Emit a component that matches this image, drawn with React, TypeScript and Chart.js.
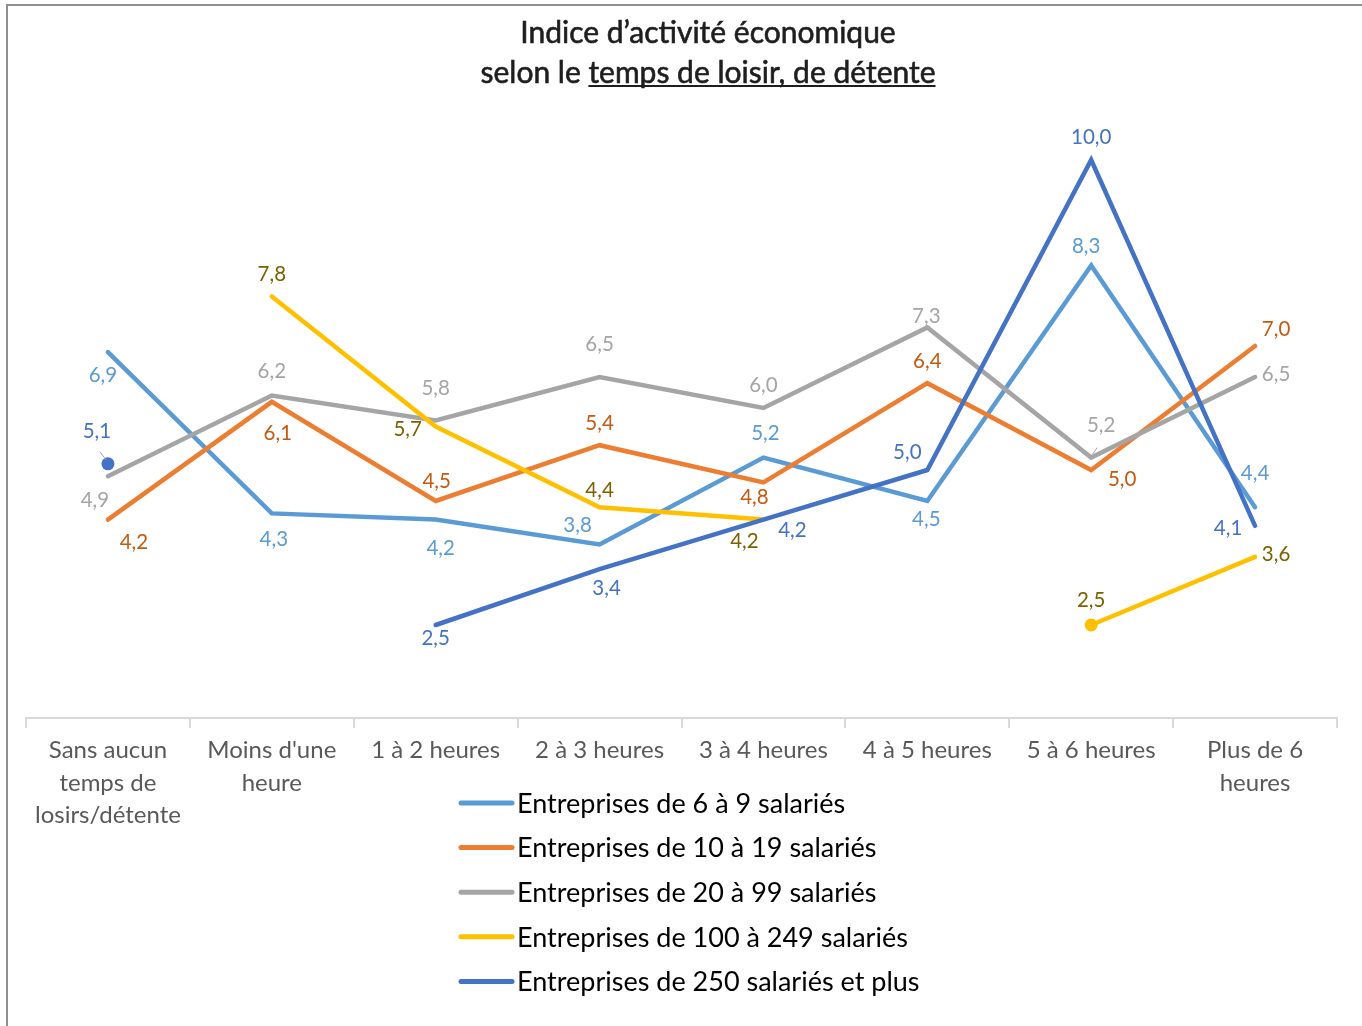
import React, { useEffect, useRef } from "react";
import { Chart, registerables } from "chart.js";

Chart.register(...registerables);

const categories: (string | string[])[] = [
  ["Sans aucun", "temps de", "losirs/détente"],
  ["Moins d'une", "heure"],
  "1 à 2 heures",
  "2 à 3 heures",
  "3 à 4 heures",
  "4 à 5 heures",
  "5 à 6 heures",
  ["Plus de 6", "heures"],
];

const seriesNames = [
  "Entreprises de 6 à 9 salariés",
  "Entreprises de 10 à 19 salariés",
  "Entreprises de 20 à 99 salariés",
  "Entreprises de 100 à 249 salariés",
  "Entreprises de 250 salariés et plus",
];

const s6to9 = [6.9, 4.3, 4.2, 3.8, 5.2, 4.5, 8.3, 4.4];
const s10to19 = [4.2, 6.1, 4.5, 5.4, 4.8, 6.4, 5.0, 7.0];
const s20to99 = [4.9, 6.2, 5.8, 6.5, 6.0, 7.3, 5.2, 6.5];
const s100to249 = [null, 7.8, 5.7, 4.4, 4.2, null, 2.5, 3.6];
const s250plus = [5.1, null, 2.5, 3.4, 4.2, 5.0, 10.0, 4.1];

const seriesValues = [s6to9, s10to19, s20to99, s100to249, s250plus];

const lineColors = ["#5B9BD5", "#ED7D31", "#A5A5A5", "#FFC000", "#4472C4"];
const labelColors = ["#5B9BD5", "#C55A11", "#A5A5A5", "#7F6000", "#4472C4"];

// label offsets (dx, dy) from each point, per series
const labelOffsets: [number, number][][] = [
  [[-5, 23], [2, 26], [5, 29], [-22, -19], [2, -24], [-1, 18], [-5, -19], [0, -34]],
  [[26, 23], [6, 32], [1, -20], [0, -22], [-9, 15], [0, -22], [31, 9], [21, -17]],
  [[-13, 24], [0, -24], [0, -32], [0, -33], [0, -23], [-1, -11], [10, -32], [21, -3]],
  [[0, 0], [0, -22], [-28, 3], [0, -17], [-19, 22], [0, 0], [0, -25], [21, -2]],
  [[-11, -32], [0, 0], [0, 13], [7, 19], [29, 11], [-20, -18], [0, -23], [-27, 3]],
];

// points drawn with a marker
const markerPoints: number[][] = [[], [], [], [6], [0]];

const FONT = "Lato, 'Open Sans', sans-serif";

const fmt = (v: number) => v.toFixed(1).replace(".", ",");

const framePlugin = {
  id: "frame",
  beforeDraw(chart: any) {
    const ctx = chart.ctx;
    ctx.save();
    ctx.fillStyle = "#ffffff";
    ctx.fillRect(0, 0, chart.width, chart.height);
    ctx.strokeStyle = "#8f8f8f";
    ctx.lineWidth = 2;
    ctx.strokeRect(7, 5, 3000, 3000);
    ctx.restore();
  },
};

const titlePlugin = {
  id: "customTitle",
  afterDraw(chart: any) {
    const ctx = chart.ctx;
    ctx.save();
    ctx.fillStyle = "#1e1e1e";
    ctx.strokeStyle = "#1e1e1e";
    ctx.lineWidth = 0.6;
    ctx.font = `30px ${FONT}`;
    ctx.textAlign = "center";
    ctx.textBaseline = "middle";
    const cx = 708;
    const t1 = "Indice d’activité économique";
    ctx.fillText(t1, cx, 33);
    ctx.strokeText(t1, cx, 33);
    const a = "selon le ";
    const b = "temps de loisir, de détente";
    const wa = ctx.measureText(a).width;
    const wb = ctx.measureText(b).width;
    const x0 = cx - (wa + wb) / 2;
    ctx.textAlign = "left";
    ctx.fillText(a, x0, 73);
    ctx.strokeText(a, x0, 73);
    ctx.fillText(b, x0 + wa, 73);
    ctx.strokeText(b, x0 + wa, 73);
    ctx.lineWidth = 1.8;
    ctx.beginPath();
    ctx.moveTo(x0 + wa, 86);
    ctx.lineTo(x0 + wa + wb, 86);
    ctx.stroke();
    ctx.restore();
  },
};

const labelsPlugin = {
  id: "pointLabels",
  afterDatasetsDraw(chart: any) {
    const ctx = chart.ctx;
    ctx.save();
    ctx.font = `20.5px ${FONT}`;
    ctx.textAlign = "center";
    ctx.textBaseline = "middle";
    seriesValues.forEach((vals, i) => {
      const meta = chart.getDatasetMeta(i);
      vals.forEach((v, j) => {
        if (v === null || v === undefined) return;
        const pt = meta.data[j];
        const [dx, dy] = labelOffsets[i][j];
        ctx.fillStyle = labelColors[i];
        ctx.fillText(fmt(v as number), pt.x + dx, pt.y + dy);
      });
    });
    // leader lines
    ctx.strokeStyle = "#A5A5A5";
    ctx.lineWidth = 1;
    const lead = (i: number, j: number, dx1: number, dy1: number, dx2: number, dy2: number) => {
      const pt = chart.getDatasetMeta(i).data[j];
      ctx.beginPath();
      ctx.moveTo(pt.x + dx1, pt.y + dy1);
      ctx.lineTo(pt.x + dx2, pt.y + dy2);
      ctx.stroke();
    };
    lead(4, 0, -8, -12, -2, -4);
    lead(2, 6, 6, -10, 1, -3);
    ctx.restore();
  },
};

const legendPlugin = {
  id: "customLegend",
  afterDraw(chart: any) {
    const ctx = chart.ctx;
    ctx.save();
    ctx.font = `27px ${FONT}`;
    ctx.textAlign = "left";
    ctx.textBaseline = "middle";
    seriesNames.forEach((name, i) => {
      const y = 803 + i * 44.6;
      ctx.strokeStyle = lineColors[i];
      ctx.lineWidth = 5;
      ctx.lineCap = "round";
      ctx.beginPath();
      ctx.moveTo(461, y);
      ctx.lineTo(512, y);
      ctx.stroke();
      ctx.fillStyle = "#000000";
      ctx.fillText(name, 517, y + 1);
    });
    ctx.restore();
  },
};

export default function App() {
  const ref = useRef<HTMLCanvasElement | null>(null);
  useEffect(() => {
    document.body.style.margin = "0";
    document.body.style.overflow = "hidden";
    const canvas = ref.current!;
    const chart = new Chart(canvas, {
      type: "line",
      data: {
        labels: categories,
        datasets: seriesValues.map((vals, i) => ({
          label: seriesNames[i],
          data: vals,
          borderColor: lineColors[i],
          backgroundColor: lineColors[i],
          borderWidth: 4.5,
          tension: 0,
          spanGaps: false,
          order: 4 - i,
          borderCapStyle: "round" as const,
          borderJoinStyle: "miter" as const,
          pointRadius: vals.map((_, j) => (markerPoints[i].includes(j) ? 6.5 : 0)),
          pointHoverRadius: 0,
          pointBorderWidth: 0,
        })),
      },
      options: {
        responsive: false,
        animation: false,
        devicePixelRatio: 1,
        layout: { padding: { left: 26, right: 25, top: 98, bottom: 188 } },
        plugins: {
          legend: { display: false },
          title: { display: false },
          tooltip: { enabled: false },
        },
        scales: {
          x: {
            offset: true,
            afterFit: (scale: any) => {
              scale.height = 120;
            },
            grid: {
              offset: true,
              drawOnChartArea: false,
              drawTicks: true,
              tickLength: 10,
              color: "#D9D9D9",
              lineWidth: 2,
            },
            border: { color: "#D9D9D9", width: 2 },
            ticks: {
              color: "#595959",
              padding: 6,
              maxRotation: 0,
              autoSkip: false,
              font: { family: FONT, size: 24, lineHeight: 1.355 },
            },
          },
          y: {
            display: false,
            min: 1,
            max: 11,
          },
        },
      },
      plugins: [framePlugin, titlePlugin, labelsPlugin, legendPlugin],
    });
    return () => chart.destroy();
  }, []);
  return (
    <canvas ref={ref} width={1362} height={1026} style={{ display: "block", width: 1362, height: 1026 }} />
  );
}
